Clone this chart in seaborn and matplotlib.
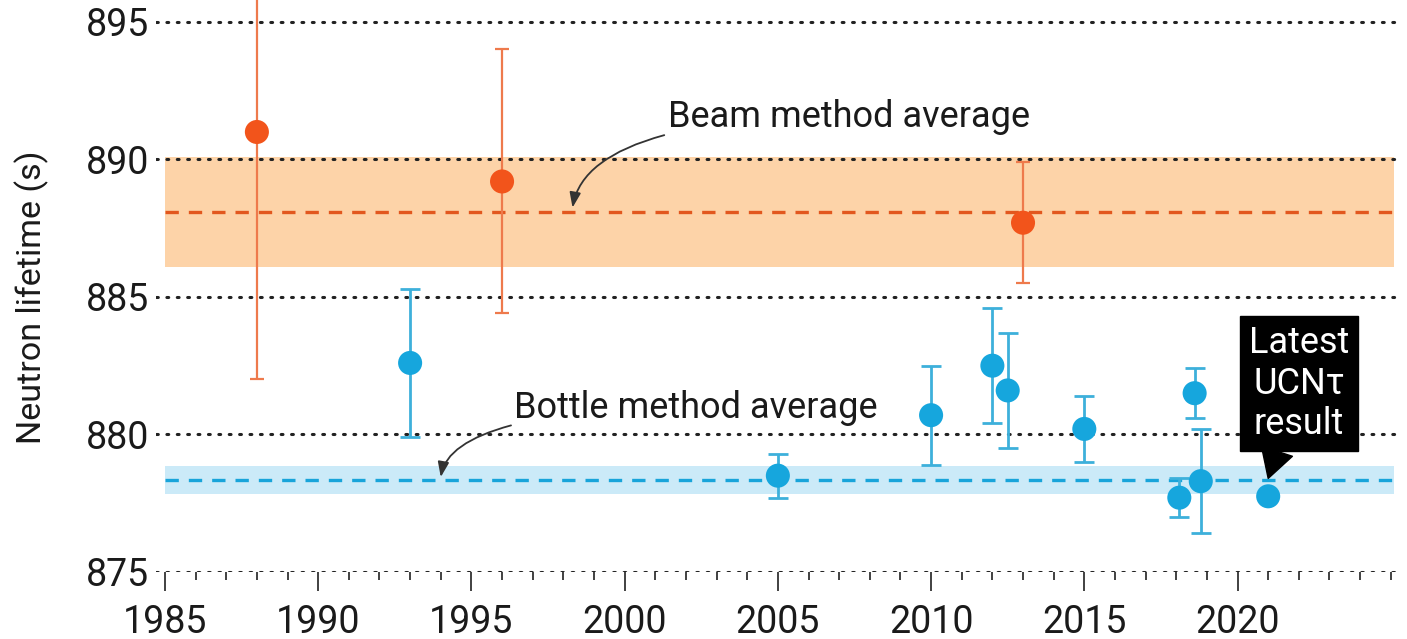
import matplotlib
matplotlib.use("Agg")
import matplotlib.pyplot as plt
import seaborn as sns
import pandas as pd
from matplotlib.ticker import MultipleLocator

# ---- data ----
beam_years = [1988, 1996, 2013]
beam_values = [891.0, 889.2, 887.7]
beam_errors = [9.0, 4.8, 2.2]

bottle_years = [1993, 2005, 2010, 2012.0, 2012.5, 2015, 2018.1, 2018.6, 2018.8]
bottle_values = [882.6, 878.5, 880.7, 882.5, 881.6, 880.2, 877.7, 881.5, 878.3]
bottle_errors = [2.7, 0.8, 1.8, 2.1, 2.1, 1.2, 0.7, 0.9, 1.9]

ucn_year = [2021]
ucn_value = [877.75]

beam_avg, beam_avg_err = 888.1, 2.0
bottle_avg, bottle_avg_err = 878.35, 0.5

y_ticks = [875, 880, 885, 890, 895]
x_ticks = [1985, 1990, 1995, 2000, 2005, 2010, 2015, 2020]

ORANGE = "#F2541B"
ORANGE_ERR = "#EE7A4C"
ORANGE_BAND = "#FDD3A8"
ORANGE_DASH = "#E2571E"
BLUE = "#16A6DD"
BLUE_ERR = "#3DB0DB"
BLUE_BAND = "#CBEAF8"
BLUE_DASH = "#18A4DA"

sns.set_theme(style="white")
plt.rcParams["font.family"] = ["Roboto", "DejaVu Sans"]

fig = plt.figure(figsize=(14.07, 6.39), dpi=100)
ax = fig.add_axes([0.1107, 0.105, 0.8843, 0.895])

ax.set_xlim(1984.7, 2025.3)
ax.set_ylim(875, 895.8)

# bands and averages
ax.axhspan(beam_avg - beam_avg_err, beam_avg + beam_avg_err, xmin=0.0074, xmax=0.995,
           color=ORANGE_BAND, lw=0, zorder=0)
ax.axhspan(bottle_avg - bottle_avg_err, bottle_avg + bottle_avg_err, xmin=0.0074, xmax=0.995,
           color=BLUE_BAND, lw=0, zorder=0)

# dotted grid lines
for yv in y_ticks:
    ax.axhline(yv, color="#222222", lw=2.2, ls=(0, (0.6, 2.8)), zorder=1,
               dash_capstyle="round")

ax.axhline(beam_avg, xmin=0.0074, xmax=0.995, color=ORANGE_DASH, lw=2.4,
           ls=(0, (4, 3)), zorder=2)
ax.axhline(bottle_avg, xmin=0.0074, xmax=0.995, color=BLUE_DASH, lw=2.4,
           ls=(0, (4, 3)), zorder=2)

# error bars
ax.errorbar(beam_years, beam_values, yerr=beam_errors, fmt="none", ecolor=ORANGE_ERR,
            elinewidth=1.6, capsize=5, capthick=1.6, zorder=3)
ax.errorbar(bottle_years, bottle_values, yerr=bottle_errors, fmt="none", ecolor=BLUE_ERR,
            elinewidth=2.0, capsize=7, capthick=2.0, zorder=3)

# points via seaborn
beam_df = pd.DataFrame({"year": beam_years, "tau": beam_values})
bottle_df = pd.DataFrame({"year": bottle_years + ucn_year, "tau": bottle_values + ucn_value})
sns.scatterplot(data=beam_df, x="year", y="tau", ax=ax, color=ORANGE, s=300,
                edgecolor="none", zorder=4)
sns.scatterplot(data=bottle_df, x="year", y="tau", ax=ax, color=BLUE, s=300,
                edgecolor="none", zorder=4)

# ticks
ax.set_yticks(y_ticks)
ax.set_xticks(x_ticks)
ax.xaxis.set_minor_locator(MultipleLocator(1))
ax.tick_params(axis="y", length=0, pad=5, labelsize=27, colors="#1a1a1a")
ax.tick_params(axis="x", which="major", length=14, width=1.3, color="#333333",
               bottom=True, pad=9, labelsize=27, labelcolor="#1a1a1a")
ax.tick_params(axis="x", which="minor", length=6, width=1.3, color="#333333", bottom=True)
for s in ax.spines.values():
    s.set_visible(False)
ax.grid(False)

ax.set_xlabel("")
ax.set_ylabel("Neutron lifetime (s)", fontsize=24.5, color="#1a1a1a")
ax.yaxis.set_label_coords(-0.086, 0.48)

# annotations
arrow_kw = dict(arrowstyle="-|>,head_length=0.35,head_width=0.13", color="#333333",
                lw=1.3, connectionstyle="angle3,angleA=0,angleB=80",
                shrinkA=0, shrinkB=0)
ax.annotate("Beam method average", xy=(1998.3, beam_avg + 0.15), xytext=(2001.4, 891.55),
            fontsize=26, color="#1a1a1a", va="center", ha="left", arrowprops=arrow_kw)
ax.annotate("Bottle method average", xy=(1994.0, bottle_avg + 0.1), xytext=(1996.4, 880.95),
            fontsize=26, color="#1a1a1a", va="center", ha="left", arrowprops=arrow_kw)
ax.annotate("Latest\nUCNτ\nresult", xy=(ucn_year[0], bottle_avg + 0.05), xytext=(2022.0, 881.85),
            fontsize=26, color="white", ha="center", va="center", linespacing=1.15,
            bbox=dict(boxstyle="square,pad=0.25", fc="black", ec="black"),
            arrowprops=dict(arrowstyle="wedge,tail_width=0.9,shrink_factor=0.5",
                            fc="black", ec="black", shrinkA=0, shrinkB=0))

fig.savefig("out.png", dpi=100)
